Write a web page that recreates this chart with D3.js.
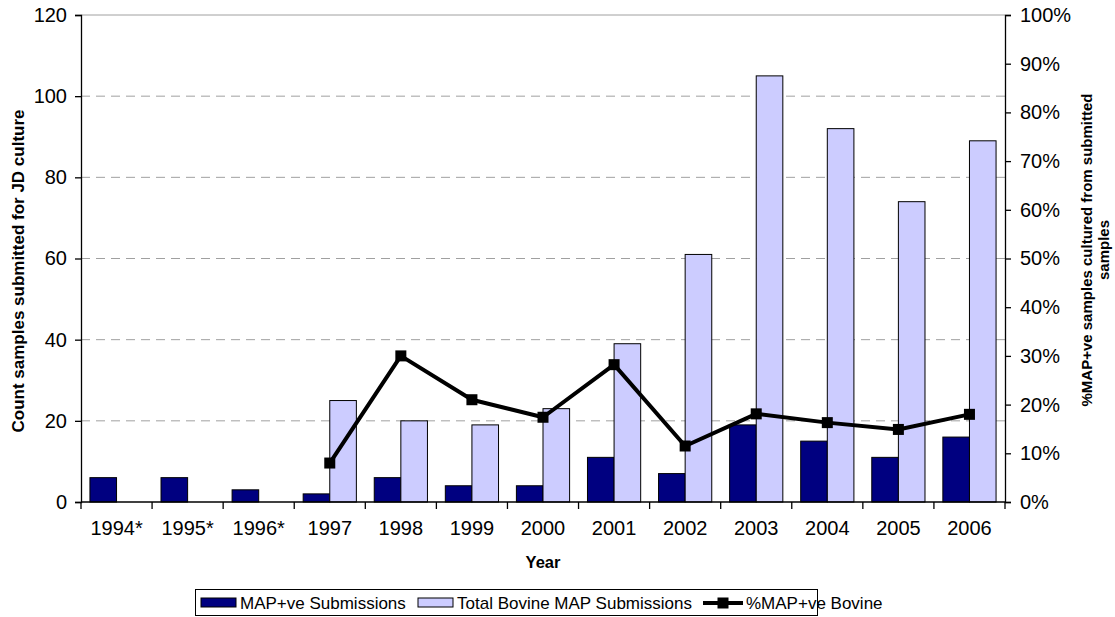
<!DOCTYPE html>
<html>
<head>
<meta charset="utf-8">
<script src="https://cdn.jsdelivr.net/npm/d3@7"></script>
<style>
  body { margin: 0; background: #fff; }
  svg { display: block; font-family: "Liberation Sans", Arial, sans-serif; }
</style>
</head>
<body>
<svg id="chart" width="1115" height="617"></svg>
<script>
const years = ["1994*", "1995*", "1996*", "1997", "1998", "1999", "2000", "2001", "2002", "2003", "2004", "2005", "2006"];
const mapPositive = [6, 6, 3, 2, 6, 4, 4, 11, 7, 19, 15, 11, 16];
const totalBovine = [null, null, null, 25, 20, 19, 23, 39, 61, 105, 92, 74, 89];
const pctPositive = [null, null, null, 0.08, 0.30, 0.21, 0.174, 0.282, 0.115, 0.181, 0.163, 0.149, 0.18];
const leftTicks = [0, 20, 40, 60, 80, 100, 120];
const rightTicks = [0, 0.1, 0.2, 0.3, 0.4, 0.5, 0.6, 0.7, 0.8, 0.9, 1.0];
const seriesNames = ["MAP+ve Submissions", "Total Bovine MAP Submissions", "%MAP+ve Bovine"];

const svg = d3.select("#chart");
const m = { left: 81, right: 1005, top: 15, bottom: 502 };

const x0 = d3.scaleBand().domain(years).range([m.left, m.right]).padding(0);
const x1 = d3.scaleBand().domain(["pos", "tot"]).range([0, x0.bandwidth()]).paddingInner(0).paddingOuter(0.336);
const yL = d3.scaleLinear().domain([0, 120]).range([m.bottom, m.top]);
const yR = d3.scaleLinear().domain([0, 1]).range([m.bottom, m.top]);

// gridlines
svg.append("g").selectAll("line").data(leftTicks.filter(t => t > 0 && t < 120)).join("line")
  .attr("x1", m.left).attr("x2", m.right)
  .attr("y1", d => yL(d)).attr("y2", d => yL(d))
  .attr("stroke", "#a0a0a0").attr("stroke-width", 1).attr("stroke-dasharray", "9,6");
svg.append("line").attr("x1", m.left).attr("x2", m.right).attr("y1", yL(120)).attr("y2", yL(120))
  .attr("stroke", "#a0a0a0").attr("stroke-width", 1);

// bars
const g = svg.append("g");
years.forEach((yr, i) => {
  g.append("rect")
    .attr("x", x0(yr) + x1("pos")).attr("width", x1.bandwidth())
    .attr("y", yL(mapPositive[i])).attr("height", yL(0) - yL(mapPositive[i]))
    .attr("fill", "#000080").attr("stroke", "#000").attr("stroke-width", 1);
  if (totalBovine[i] != null) {
    g.append("rect")
      .attr("x", x0(yr) + x1("tot")).attr("width", x1.bandwidth())
      .attr("y", yL(totalBovine[i])).attr("height", yL(0) - yL(totalBovine[i]))
      .attr("fill", "#CCCCFF").attr("stroke", "#000").attr("stroke-width", 1);
  }
});

// axes
const tickFont = "20px";
const legendFont = "17px";
const axL = svg.append("g").attr("transform", `translate(${m.left},0)`)
  .call(d3.axisLeft(yL).tickValues(leftTicks).tickSize(6).tickPadding(8).tickFormat(d3.format("d")));
const axR = svg.append("g").attr("transform", `translate(${m.right},0)`)
  .call(d3.axisRight(yR).tickValues(rightTicks).tickSize(6).tickPadding(9).tickFormat(d3.format(".0%")));
const axB = svg.append("g").attr("transform", `translate(0,${m.bottom})`)
  .call(d3.axisBottom(x0).tickSize(0).tickPadding(19));
[axL, axR, axB].forEach(a => {
  a.select(".domain").attr("stroke", "#000").attr("stroke-width", 1.3);
  a.selectAll(".tick line").attr("stroke", "#000").attr("stroke-width", 1.3);
  a.selectAll("text").attr("font-size", tickFont).attr("fill", "#000").attr("font-family", "Liberation Sans, Arial, sans-serif");
});
axB.select(".domain").attr("d", `M${m.left},0H${m.right}`);
// category boundary ticks on x axis
svg.append("g").selectAll("line").data(d3.range(years.length + 1)).join("line")
  .attr("x1", i => m.left + i * x0.step()).attr("x2", i => m.left + i * x0.step())
  .attr("y1", m.bottom).attr("y2", m.bottom + 7)
  .attr("stroke", "#000").attr("stroke-width", 1.3);

// line series
const pts = years.map((yr, i) => ({ x: x0(yr) + x0.bandwidth() / 2, v: pctPositive[i] })).filter(d => d.v != null);
svg.append("path").datum(pts)
  .attr("d", d3.line().x(d => d.x).y(d => yR(d.v)))
  .attr("fill", "none").attr("stroke", "#000").attr("stroke-width", 4).attr("stroke-linejoin", "round");
svg.append("g").selectAll("rect").data(pts).join("rect")
  .attr("x", d => d.x - 5.5).attr("y", d => yR(d.v) - 5.5)
  .attr("width", 11).attr("height", 11).attr("fill", "#000");

// axis titles
svg.append("text").attr("x", (m.left + m.right) / 2).attr("y", 568)
  .attr("text-anchor", "middle").attr("font-weight", "bold").attr("font-size", "16.5px").text("Year");
svg.append("text").attr("transform", "translate(24,271) rotate(-90)")
  .attr("text-anchor", "middle").attr("font-weight", "bold").attr("font-size", "17px")
  .text("Count samples submitted for JD culture");
const rt = svg.append("text").attr("transform", "translate(1092,250) rotate(-90)")
  .attr("text-anchor", "middle").attr("font-weight", "bold").attr("font-size", "15px");
rt.append("tspan").attr("x", 0).attr("dy", 0).text("%MAP+ve samples cultured from submitted");
rt.append("tspan").attr("x", 0).attr("dy", 17).text("samples");

// legend
const lg = svg.append("g");
lg.append("rect").attr("x", 195.5).attr("y", 589.5).attr("width", 622).attr("height", 26)
  .attr("fill", "#fff").attr("stroke", "#000").attr("stroke-width", 1);
const ly = 603;
lg.append("rect").attr("x", 201).attr("y", ly - 5).attr("width", 35).attr("height", 9)
  .attr("fill", "#000080").attr("stroke", "#000");
lg.append("text").attr("x", 240).attr("y", ly + 6).attr("font-size", legendFont).text(seriesNames[0]);
lg.append("rect").attr("x", 418).attr("y", ly - 5).attr("width", 35).attr("height", 9)
  .attr("fill", "#CCCCFF").attr("stroke", "#000");
lg.append("text").attr("x", 457).attr("y", ly + 6).attr("font-size", legendFont).text(seriesNames[1]);
lg.append("line").attr("x1", 703).attr("x2", 743).attr("y1", ly).attr("y2", ly)
  .attr("stroke", "#000").attr("stroke-width", 4);
lg.append("rect").attr("x", 717.5).attr("y", ly - 5.5).attr("width", 11).attr("height", 11).attr("fill", "#000");
lg.append("text").attr("x", 746).attr("y", ly + 6).attr("font-size", legendFont).text(seriesNames[2]);
</script>
</body>
</html>
